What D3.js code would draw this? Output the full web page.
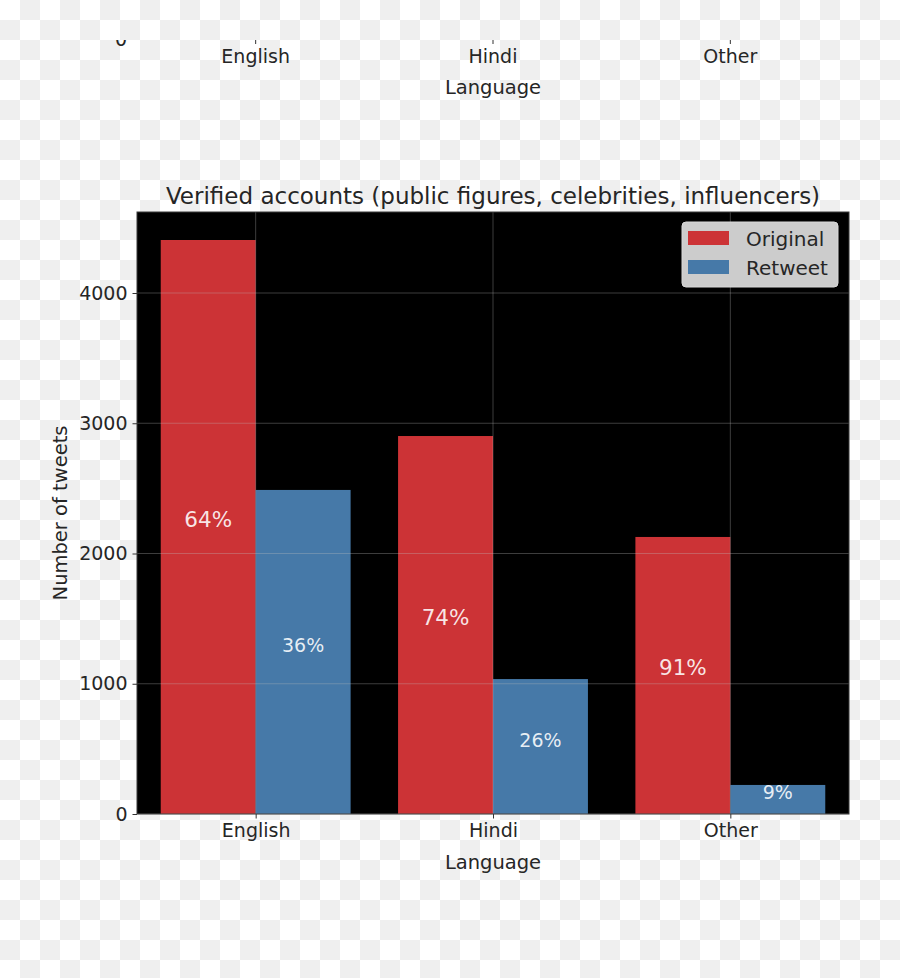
<!DOCTYPE html>
<html>
<head>
<meta charset="utf-8">
<script src="https://cdn.jsdelivr.net/npm/d3@7/dist/d3.min.js"></script>
<style>
  html, body { margin: 0; padding: 0; background: #fff; }
  svg { display: block; }
  text { font-family: "DejaVu Sans", sans-serif; }
</style>
</head>
<body>
<svg id="chart" width="900" height="978"></svg>
<script>
// ---- data ----
const categories = ["English", "Hindi", "Other"];
const seriesNames = ["Original", "Retweet"];
const originalValues = [4407, 2902, 2127];
const retweetValues = [2488, 1036, 223];
const originalPct = ["64%", "74%", "91%"];
const retweetPct = ["36%", "26%", "9%"];
const yTicks = [0, 1000, 2000, 3000, 4000];
const chartTitle = "Verified accounts (public figures, celebrities, influencers)";

const colors = ["#cc3336", "#4679a8"];

const svg = d3.select("#chart");

// checkerboard background (transparent-image look)
const defs = svg.append("defs");
const pat = defs.append("pattern").attr("id", "checker")
  .attr("width", 40).attr("height", 40).attr("patternUnits", "userSpaceOnUse");
pat.append("rect").attr("width", 40).attr("height", 40).attr("fill", "#ffffff");
pat.append("rect").attr("x", 20).attr("y", 0).attr("width", 20).attr("height", 20).attr("fill", "#efefef");
pat.append("rect").attr("x", 0).attr("y", 20).attr("width", 20).attr("height", 20).attr("fill", "#efefef");
svg.append("rect").attr("width", 900).attr("height", 978).attr("fill", "url(#checker)");

const L = 137, R = 849, T = 212, B = 814;
const x = d3.scaleLinear().domain([-0.5, categories.length - 0.5]).range([L, R]);
const y = d3.scaleLinear().domain([0, 4622]).range([B, T]);
const bw = x(0.4) - x(0);
const tickFont = 19;
const labelFont = 19.5;

// ---- fragment of previous chart (cropped at the top) ----
defs.append("clipPath").attr("id", "topclip")
  .append("rect").attr("x", 0).attr("y", 40).attr("width", 900).attr("height", 100);
const prev = svg.append("g").attr("clip-path", "url(#topclip)");
const yTop = 39.5;
prev.append("line").attr("x1", L).attr("x2", R).attr("y1", yTop).attr("y2", yTop).attr("stroke", "#444");
prev.selectAll(".tt").data(categories).join("line")
  .attr("x1", (d, i) => x(i)).attr("x2", (d, i) => x(i))
  .attr("y1", yTop).attr("y2", yTop + 4.5).attr("stroke", "#333");
prev.selectAll(".tl").data(categories).join("text")
  .attr("x", (d, i) => x(i)).attr("y", yTop + 23)
  .attr("text-anchor", "middle").attr("font-size", tickFont).attr("fill", "#262626").text(d => d);
prev.append("text").attr("x", 127).attr("y", yTop).attr("dy", "0.36em")
  .attr("text-anchor", "end").attr("font-size", tickFont).attr("fill", "#262626").text("0");
prev.append("text").attr("x", (L + R) / 2).attr("y", yTop + 54)
  .attr("text-anchor", "middle").attr("font-size", labelFont).attr("fill", "#262626").text("Language");

// ---- main axes ----
svg.append("rect").attr("x", L).attr("y", T).attr("width", R - L).attr("height", B - T).attr("fill", "#000");

const g = svg.append("g");

// bars
g.selectAll(".bo").data(originalValues).join("rect")
  .attr("x", (d, i) => x(i - 0.4)).attr("y", d => y(d))
  .attr("width", bw).attr("height", d => y(0) - y(d)).attr("fill", colors[0]);
g.selectAll(".br").data(retweetValues).join("rect")
  .attr("x", (d, i) => x(i)).attr("y", d => y(d))
  .attr("width", bw).attr("height", d => y(0) - y(d)).attr("fill", colors[1]);

// grid (drawn above bars)
const gridColor = "rgba(190,190,190,0.32)";
g.selectAll(".gy").data(yTicks).join("line")
  .attr("x1", L).attr("x2", R).attr("y1", d => y(d)).attr("y2", d => y(d))
  .attr("stroke", gridColor).attr("stroke-width", 1);
g.selectAll(".gx").data(categories).join("line")
  .attr("x1", (d, i) => x(i)).attr("x2", (d, i) => x(i)).attr("y1", T).attr("y2", B)
  .attr("stroke", gridColor).attr("stroke-width", 1);

// percent labels
g.selectAll(".po").data(originalValues).join("text")
  .attr("x", (d, i) => x(i - 0.2)).attr("y", d => y(d / 2))
  .attr("text-anchor", "middle").attr("font-size", 21.5).attr("fill", "#fff").attr("fill-opacity", 0.88)
  .text((d, i) => originalPct[i]);
g.selectAll(".pr").data(retweetValues).join("text")
  .attr("x", (d, i) => x(i + 0.2)).attr("y", d => y(d / 2))
  .attr("text-anchor", "middle").attr("font-size", 19).attr("fill", "#fff").attr("fill-opacity", 0.88)
  .text((d, i) => retweetPct[i]);

// frame
svg.append("rect").attr("x", L).attr("y", T).attr("width", R - L).attr("height", B - T)
  .attr("fill", "none").attr("stroke", "#3a3a3a").attr("stroke-width", 1);

// y axis ticks and labels
const yAxis = d3.axisLeft(y).tickValues(yTicks).tickSize(4.5).tickPadding(5).tickFormat(d3.format("d"));
const ya = svg.append("g").attr("transform", `translate(${L},0)`).call(yAxis);
ya.select(".domain").remove();
ya.selectAll("line").attr("stroke", "#333");
ya.selectAll("text").attr("font-size", tickFont).attr("fill", "#262626").attr("font-family", "DejaVu Sans");

// x axis ticks and labels
const xAxis = d3.axisBottom(x).tickValues(d3.range(categories.length)).tickSize(4.5).tickPadding(5)
  .tickFormat(i => categories[i]);
const xa = svg.append("g").attr("transform", `translate(0,${B})`).call(xAxis);
xa.select(".domain").remove();
xa.selectAll("line").attr("stroke", "#333");
xa.selectAll("text").attr("font-size", tickFont).attr("fill", "#262626").attr("font-family", "DejaVu Sans");

// axis labels
svg.append("text").attr("x", (L + R) / 2).attr("y", 869)
  .attr("text-anchor", "middle").attr("font-size", labelFont).attr("fill", "#262626").text("Language");
svg.append("text").attr("transform", `translate(67,${(T + B) / 2}) rotate(-90)`)
  .attr("text-anchor", "middle").attr("font-size", labelFont).attr("fill", "#262626").text("Number of tweets");

// title
svg.append("text").attr("x", (L + R) / 2).attr("y", 204)
  .attr("text-anchor", "middle").attr("font-size", 23).attr("fill", "#262626").text(chartTitle);

// legend
const lg = svg.append("g");
lg.append("rect").attr("x", 682).attr("y", 222).attr("width", 156).attr("height", 65).attr("rx", 4)
  .attr("fill", "#cccccc").attr("stroke", "#d8d8d8");
seriesNames.forEach((n, i) => {
  lg.append("rect").attr("x", 688).attr("y", 231 + i * 29).attr("width", 41).attr("height", 14)
    .attr("fill", colors[i]);
  lg.append("text").attr("x", 746).attr("y", 245.5 + i * 29.5)
    .attr("font-size", 20).attr("fill", "#262626").text(n);
});
</script>
</body>
</html>
